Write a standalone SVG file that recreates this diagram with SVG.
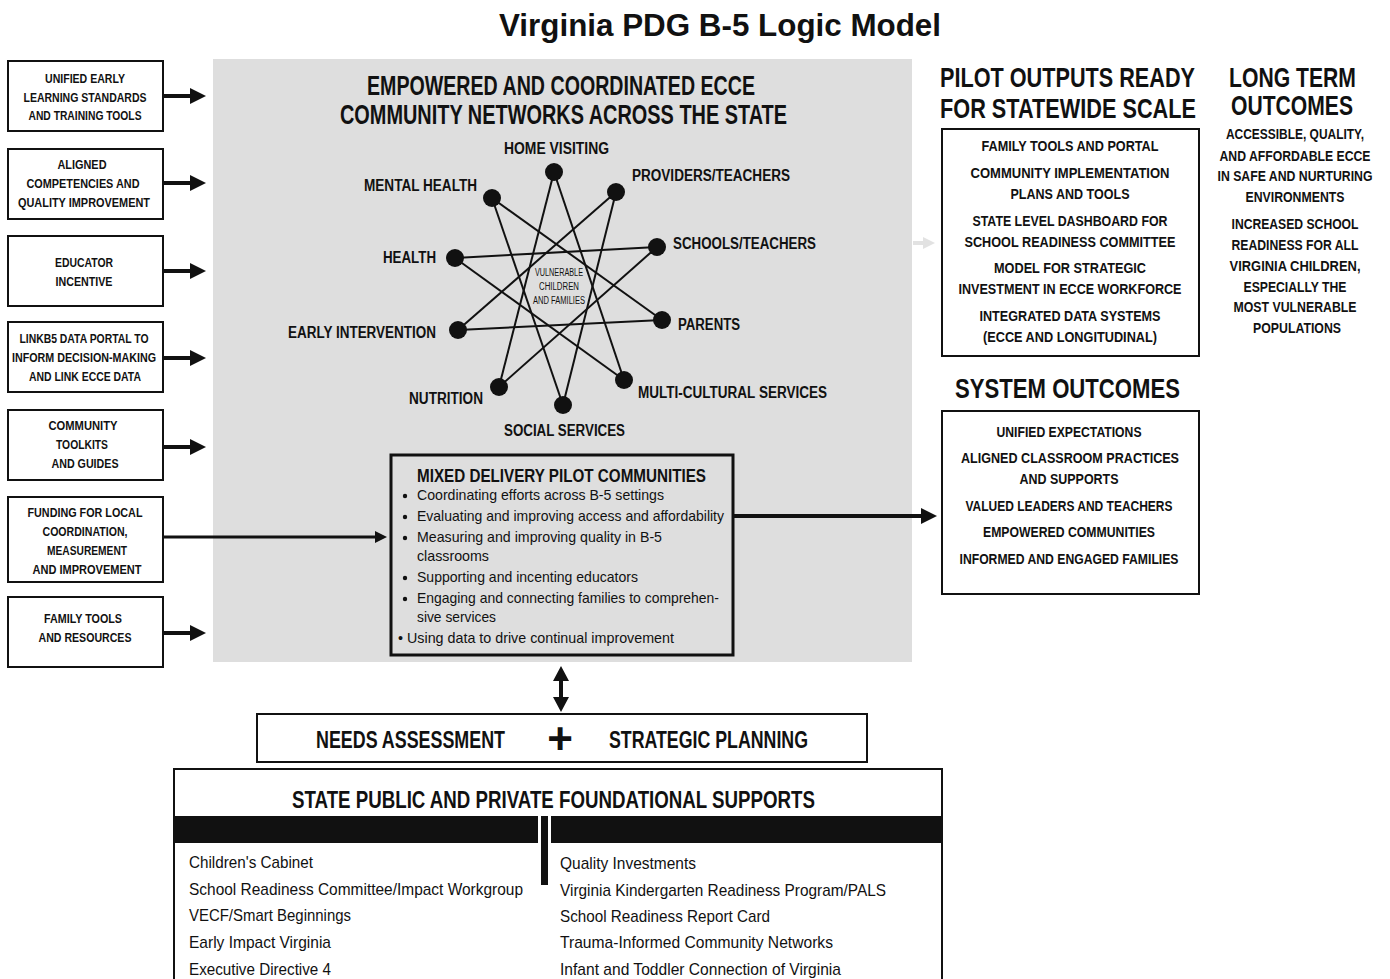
<svg xmlns="http://www.w3.org/2000/svg" width="1390" height="979" viewBox="0 0 1390 979">
<style>
text{font-family:"Liberation Sans",Arial,sans-serif;fill:#111}
.t{font-weight:bold;font-size:31px}
.lb{font-weight:bold;font-size:13px;text-anchor:middle}
.h{font-weight:bold;font-size:27px}
.sl{font-weight:bold;font-size:16px}
.ct{font-size:10px;text-anchor:middle}
.mt{font-weight:bold;font-size:19px}
.bu{font-size:15px}
.na{font-weight:bold;font-size:24px}
.li{font-size:17px}
.ri{font-weight:bold;font-size:15px;text-anchor:middle}
.lt{font-weight:bold;font-size:14px;text-anchor:middle}
.box{fill:#fff;stroke:#111;stroke-width:2}
.arr{stroke:#111;stroke-width:4;fill:none}
.sk{stroke:#111;stroke-width:2}
</style>
<defs>
<marker id="ah" viewBox="0 0 16 16" markerWidth="16" markerHeight="16" refX="2" refY="8" markerUnits="userSpaceOnUse" orient="auto"><path d="M0,0 L16,8 L0,16 z" fill="#111"/></marker>
<marker id="ahs" viewBox="0 0 12 12" markerWidth="12" markerHeight="12" refX="2" refY="6" markerUnits="userSpaceOnUse" orient="auto"><path d="M0,0 L12,6 L0,12 z" fill="#111"/></marker>
<marker id="ahg" viewBox="0 0 12 12" markerWidth="12" markerHeight="12" refX="2" refY="6" markerUnits="userSpaceOnUse" orient="auto"><path d="M0,0 L12,6 L0,12 z" fill="#e2e2e2"/></marker>
</defs>
<rect width="1390" height="979" fill="#fff"/>
<text class="t" x="499" y="36" textLength="442" lengthAdjust="spacingAndGlyphs">Virginia PDG B-5 Logic Model</text>

<g id="panel">
<rect x="213" y="59" width="699" height="603" fill="#dedede"/>
<text class="h" x="367" y="95" textLength="388" lengthAdjust="spacingAndGlyphs">EMPOWERED AND COORDINATED ECCE</text>
<text class="h" x="340" y="124" textLength="447" lengthAdjust="spacingAndGlyphs">COMMUNITY NETWORKS ACROSS THE STATE</text>
</g>

<g id="left-inputs">
<g id="in1"><rect class="box" x="8" y="61" width="155" height="70"/>
<text class="lb" x="85" y="83" textLength="80" lengthAdjust="spacingAndGlyphs">UNIFIED EARLY</text>
<text class="lb" x="85" y="102" textLength="123" lengthAdjust="spacingAndGlyphs">LEARNING STANDARDS</text>
<text class="lb" x="85" y="120" textLength="113" lengthAdjust="spacingAndGlyphs">AND TRAINING TOOLS</text></g>
<g id="in2"><rect class="box" x="8" y="149" width="155" height="70"/>
<text class="lb" x="82" y="169" textLength="49" lengthAdjust="spacingAndGlyphs">ALIGNED</text>
<text class="lb" x="83" y="188" textLength="113" lengthAdjust="spacingAndGlyphs">COMPETENCIES AND</text>
<text class="lb" x="84" y="207" textLength="132" lengthAdjust="spacingAndGlyphs">QUALITY IMPROVEMENT</text></g>
<g id="in3"><rect class="box" x="8" y="236" width="155" height="70"/>
<text class="lb" x="84" y="267" textLength="58" lengthAdjust="spacingAndGlyphs">EDUCATOR</text>
<text class="lb" x="84" y="286" textLength="57" lengthAdjust="spacingAndGlyphs">INCENTIVE</text></g>
<g id="in4"><rect class="box" x="8" y="322" width="155" height="70"/>
<text class="lb" x="84" y="343" textLength="129" lengthAdjust="spacingAndGlyphs">LINKB5 DATA PORTAL TO</text>
<text class="lb" x="84" y="362" textLength="144" lengthAdjust="spacingAndGlyphs">INFORM DECISION-MAKING</text>
<text class="lb" x="85" y="381" textLength="112" lengthAdjust="spacingAndGlyphs">AND LINK ECCE DATA</text></g>
<g id="in5"><rect class="box" x="8" y="410" width="155" height="70"/>
<text class="lb" x="83" y="430" textLength="69" lengthAdjust="spacingAndGlyphs">COMMUNITY</text>
<text class="lb" x="82" y="449" textLength="52" lengthAdjust="spacingAndGlyphs">TOOLKITS</text>
<text class="lb" x="85" y="468" textLength="67" lengthAdjust="spacingAndGlyphs">AND GUIDES</text></g>
<g id="in6"><rect class="box" x="8" y="497" width="155" height="85"/>
<text class="lb" x="85" y="517" textLength="115" lengthAdjust="spacingAndGlyphs">FUNDING FOR LOCAL</text>
<text class="lb" x="85" y="536" textLength="85" lengthAdjust="spacingAndGlyphs">COORDINATION,</text>
<text class="lb" x="87" y="555" textLength="80" lengthAdjust="spacingAndGlyphs">MEASUREMENT</text>
<text class="lb" x="87" y="574" textLength="109" lengthAdjust="spacingAndGlyphs">AND IMPROVEMENT</text></g>
<g id="in7"><rect class="box" x="8" y="597" width="155" height="70"/>
<text class="lb" x="83" y="623" textLength="78" lengthAdjust="spacingAndGlyphs">FAMILY TOOLS</text>
<text class="lb" x="85" y="642" textLength="93" lengthAdjust="spacingAndGlyphs">AND RESOURCES</text></g>
</g>

<g id="network">
<g id="star-lines" class="sk">
<line x1="554" y1="172" x2="499" y2="387"/>
<line x1="554" y1="172" x2="624" y2="380"/>
<line x1="492" y1="198" x2="662" y2="320"/>
<line x1="492" y1="198" x2="563" y2="405"/>
<line x1="616" y1="192" x2="458" y2="330"/>
<line x1="616" y1="192" x2="563" y2="405"/>
<line x1="657" y1="247" x2="455" y2="258"/>
<line x1="657" y1="247" x2="499" y2="387"/>
<line x1="455" y1="258" x2="624" y2="380"/>
<line x1="662" y1="320" x2="458" y2="330"/>
</g>
<g fill="#111">
<circle id="n-hv" cx="554" cy="172" r="9"/>
<circle id="n-pt" cx="616" cy="192" r="9"/>
<circle id="n-mh" cx="492" cy="198" r="9"/>
<circle id="n-st" cx="657" cy="247" r="9"/>
<circle id="n-he" cx="455" cy="258" r="9"/>
<circle id="n-pa" cx="662" cy="320" r="9"/>
<circle id="n-ei" cx="458" cy="330" r="9"/>
<circle id="n-mc" cx="624" cy="380" r="9"/>
<circle id="n-nu" cx="499" cy="387" r="9"/>
<circle id="n-ss" cx="563" cy="405" r="9"/>
</g>
<text class="sl" x="504" y="154" textLength="105" lengthAdjust="spacingAndGlyphs">HOME VISITING</text>
<text class="sl" x="632" y="181" textLength="158" lengthAdjust="spacingAndGlyphs">PROVIDERS/TEACHERS</text>
<text class="sl" x="364" y="191" textLength="113" lengthAdjust="spacingAndGlyphs">MENTAL HEALTH</text>
<text class="sl" x="673" y="249" textLength="143" lengthAdjust="spacingAndGlyphs">SCHOOLS/TEACHERS</text>
<text class="sl" x="383" y="263" textLength="53" lengthAdjust="spacingAndGlyphs">HEALTH</text>
<text class="sl" x="678" y="330" textLength="62" lengthAdjust="spacingAndGlyphs">PARENTS</text>
<text class="sl" x="288" y="338" textLength="148" lengthAdjust="spacingAndGlyphs">EARLY INTERVENTION</text>
<text class="sl" x="638" y="398" textLength="189" lengthAdjust="spacingAndGlyphs">MULTI-CULTURAL SERVICES</text>
<text class="sl" x="409" y="404" textLength="74" lengthAdjust="spacingAndGlyphs">NUTRITION</text>
<text class="sl" x="504" y="436" textLength="121" lengthAdjust="spacingAndGlyphs">SOCIAL SERVICES</text>
<text class="ct" x="559" y="276" textLength="48" lengthAdjust="spacingAndGlyphs">VULNERABLE</text>
<text class="ct" x="559" y="290" textLength="40" lengthAdjust="spacingAndGlyphs">CHILDREN</text>
<text class="ct" x="559" y="304" textLength="52" lengthAdjust="spacingAndGlyphs">AND FAMILIES</text>
</g>

<g id="mixed-delivery">
<rect x="391" y="455" width="342" height="200" fill="#dedede" stroke="#111" stroke-width="3"/>
<text class="mt" x="417" y="482" textLength="289" lengthAdjust="spacingAndGlyphs">MIXED DELIVERY PILOT COMMUNITIES</text>
<g fill="#111"><circle cx="405" cy="496" r="2.2"/><circle cx="405" cy="517" r="2.2"/><circle cx="405" cy="538" r="2.2"/><circle cx="405" cy="578" r="2.2"/><circle cx="405" cy="599" r="2.2"/></g>
<text class="bu" x="417" y="500" textLength="247" lengthAdjust="spacingAndGlyphs">Coordinating efforts across B-5 settings</text>
<text class="bu" x="417" y="521" textLength="307" lengthAdjust="spacingAndGlyphs">Evaluating and improving access and affordability</text>
<text class="bu" x="417" y="542" textLength="245" lengthAdjust="spacingAndGlyphs">Measuring and improving quality in B-5</text>
<text class="bu" x="417" y="561" textLength="72" lengthAdjust="spacingAndGlyphs">classrooms</text>
<text class="bu" x="417" y="582" textLength="221" lengthAdjust="spacingAndGlyphs">Supporting and incenting educators</text>
<text class="bu" x="417" y="603" textLength="302" lengthAdjust="spacingAndGlyphs">Engaging and connecting families to comprehen-</text>
<text class="bu" x="417" y="622" textLength="79" lengthAdjust="spacingAndGlyphs">sive services</text>
<text class="bu" x="398" y="643" textLength="276" lengthAdjust="spacingAndGlyphs">• Using data to drive continual improvement</text>
</g>

<g id="needs-planning">
<rect class="box" x="257" y="714" width="610" height="48"/>
<text class="na" transform="translate(316,748) scale(0.742,1)" x="0" y="0" textLength="254.7" lengthAdjust="spacingAndGlyphs">NEEDS ASSESSMENT</text>
<text class="na" transform="translate(609,748) scale(0.735,1)" x="0" y="0" textLength="270.7" lengthAdjust="spacingAndGlyphs">STRATEGIC PLANNING</text>
<text x="560" y="754" style="font-weight:bold;font-size:44px;text-anchor:middle">+</text>
</g>

<g id="foundational">
<rect class="box" x="174" y="769" width="768" height="230"/>
<text class="na" x="292" y="808" textLength="523" lengthAdjust="spacingAndGlyphs">STATE PUBLIC AND PRIVATE FOUNDATIONAL SUPPORTS</text>
<rect x="174" y="816" width="364" height="27" fill="#111"/>
<rect x="551" y="816" width="391" height="27" fill="#111"/>
<rect x="541" y="816" width="7" height="69" fill="#111"/>
<text class="li" x="189" y="868" textLength="124" lengthAdjust="spacingAndGlyphs">Children's Cabinet</text>
<text class="li" x="189" y="895" textLength="334" lengthAdjust="spacingAndGlyphs">School Readiness Committee/Impact Workgroup</text>
<text class="li" x="189" y="921" textLength="162" lengthAdjust="spacingAndGlyphs">VECF/Smart Beginnings</text>
<text class="li" x="189" y="948" textLength="142" lengthAdjust="spacingAndGlyphs">Early Impact Virginia</text>
<text class="li" x="189" y="975" textLength="142" lengthAdjust="spacingAndGlyphs">Executive Directive 4</text>
<text class="li" x="560" y="869" textLength="136" lengthAdjust="spacingAndGlyphs">Quality Investments</text>
<text class="li" x="560" y="896" textLength="326" lengthAdjust="spacingAndGlyphs">Virginia Kindergarten Readiness Program/PALS</text>
<text class="li" x="560" y="922" textLength="210" lengthAdjust="spacingAndGlyphs">School Readiness Report Card</text>
<text class="li" x="560" y="948" textLength="273" lengthAdjust="spacingAndGlyphs">Trauma-Informed Community Networks</text>
<text class="li" x="560" y="975" textLength="281" lengthAdjust="spacingAndGlyphs">Infant and Toddler Connection of Virginia</text>
</g>

<g id="pilot-outputs">
<text class="h" transform="translate(940,87) scale(0.8,1)" x="0" y="0" textLength="318.8" lengthAdjust="spacingAndGlyphs">PILOT OUTPUTS READY</text>
<text class="h" transform="translate(940,118) scale(0.8,1)" x="0" y="0" textLength="320" lengthAdjust="spacingAndGlyphs">FOR STATEWIDE SCALE</text>
<rect class="box" x="942" y="129" width="257" height="227"/>
<text class="ri" x="1070" y="151" textLength="177" lengthAdjust="spacingAndGlyphs">FAMILY TOOLS AND PORTAL</text>
<text class="ri" x="1070" y="178" textLength="199" lengthAdjust="spacingAndGlyphs">COMMUNITY IMPLEMENTATION</text>
<text class="ri" x="1070" y="199" textLength="119" lengthAdjust="spacingAndGlyphs">PLANS AND TOOLS</text>
<text class="ri" x="1070" y="226" textLength="195" lengthAdjust="spacingAndGlyphs">STATE LEVEL DASHBOARD FOR</text>
<text class="ri" x="1070" y="247" textLength="211" lengthAdjust="spacingAndGlyphs">SCHOOL READINESS COMMITTEE</text>
<text class="ri" x="1070" y="273" textLength="152" lengthAdjust="spacingAndGlyphs">MODEL FOR STRATEGIC</text>
<text class="ri" x="1070" y="294" textLength="223" lengthAdjust="spacingAndGlyphs">INVESTMENT IN ECCE WORKFORCE</text>
<text class="ri" x="1070" y="321" textLength="181" lengthAdjust="spacingAndGlyphs">INTEGRATED DATA SYSTEMS</text>
<text class="ri" x="1070" y="342" textLength="174" lengthAdjust="spacingAndGlyphs">(ECCE AND LONGITUDINAL)</text>
</g>

<g id="system-outcomes">
<text class="h" transform="translate(955,398) scale(0.82,1)" x="0" y="0" textLength="274.4" lengthAdjust="spacingAndGlyphs">SYSTEM OUTCOMES</text>
<rect class="box" x="942" y="411" width="257" height="183"/>
<text class="ri" x="1069" y="437" textLength="145" lengthAdjust="spacingAndGlyphs">UNIFIED EXPECTATIONS</text>
<text class="ri" x="1070" y="463" textLength="218" lengthAdjust="spacingAndGlyphs">ALIGNED CLASSROOM PRACTICES</text>
<text class="ri" x="1069" y="484" textLength="99" lengthAdjust="spacingAndGlyphs">AND SUPPORTS</text>
<text class="ri" x="1069" y="511" textLength="207" lengthAdjust="spacingAndGlyphs">VALUED LEADERS AND TEACHERS</text>
<text class="ri" x="1069" y="537" textLength="172" lengthAdjust="spacingAndGlyphs">EMPOWERED COMMUNITIES</text>
<text class="ri" x="1069" y="564" textLength="219" lengthAdjust="spacingAndGlyphs">INFORMED AND ENGAGED FAMILIES</text>
</g>

<g id="long-term">
<text class="h" transform="translate(1229,87) scale(0.78,1)" x="0" y="0" textLength="162.8" lengthAdjust="spacingAndGlyphs">LONG TERM</text>
<text class="h" transform="translate(1231,115) scale(0.78,1)" x="0" y="0" textLength="156.4" lengthAdjust="spacingAndGlyphs">OUTCOMES</text>
<g transform="translate(1295,0) scale(0.85,1)">
<text class="lt" x="0" y="139" textLength="162.4" lengthAdjust="spacingAndGlyphs">ACCESSIBLE, QUALITY,</text>
<text class="lt" x="0" y="161" textLength="177.6" lengthAdjust="spacingAndGlyphs">AND AFFORDABLE  ECCE</text>
<text class="lt" x="0" y="181" textLength="182.4" lengthAdjust="spacingAndGlyphs">IN SAFE AND NURTURING</text>
<text class="lt" x="0" y="202" textLength="116.5" lengthAdjust="spacingAndGlyphs">ENVIRONMENTS</text>
<text class="lt" x="0" y="229" textLength="149.4" lengthAdjust="spacingAndGlyphs">INCREASED SCHOOL</text>
<text class="lt" x="0" y="250" textLength="149.4" lengthAdjust="spacingAndGlyphs">READINESS FOR ALL</text>
<text class="lt" x="0" y="271" textLength="154.1" lengthAdjust="spacingAndGlyphs">VIRGINIA  CHILDREN,</text>
<text class="lt" x="0" y="292" textLength="121.2" lengthAdjust="spacingAndGlyphs">ESPECIALLY THE</text>
<text class="lt" x="0" y="312" textLength="144.7" lengthAdjust="spacingAndGlyphs">MOST VULNERABLE</text>
<text class="lt" x="2.4" y="333" textLength="103.5" lengthAdjust="spacingAndGlyphs">POPULATIONS</text>
</g>
</g>

<g id="connectors">
<line class="arr" x1="163" y1="96" x2="192" y2="96" marker-end="url(#ah)"/>
<line class="arr" x1="163" y1="183" x2="192" y2="183" marker-end="url(#ah)"/>
<line class="arr" x1="163" y1="271" x2="192" y2="271" marker-end="url(#ah)"/>
<line class="arr" x1="163" y1="358" x2="192" y2="358" marker-end="url(#ah)"/>
<line class="arr" x1="163" y1="447" x2="192" y2="447" marker-end="url(#ah)"/>
<line class="arr" x1="163" y1="633" x2="192" y2="633" marker-end="url(#ah)"/>
<line x1="163" y1="537" x2="377" y2="537" stroke="#111" stroke-width="3" marker-end="url(#ahs)"/>
<line class="arr" x1="733" y1="516" x2="923" y2="516" marker-end="url(#ah)"/>
<line x1="913" y1="243" x2="925" y2="243" stroke="#e2e2e2" stroke-width="4" marker-end="url(#ahg)"/>
<line class="arr" x1="561" y1="680" x2="561" y2="698"/>
<path d="M553,681 L561,666 L569,681 z M553,697 L561,712 L569,697 z" fill="#111"/>
</g>
</svg>
